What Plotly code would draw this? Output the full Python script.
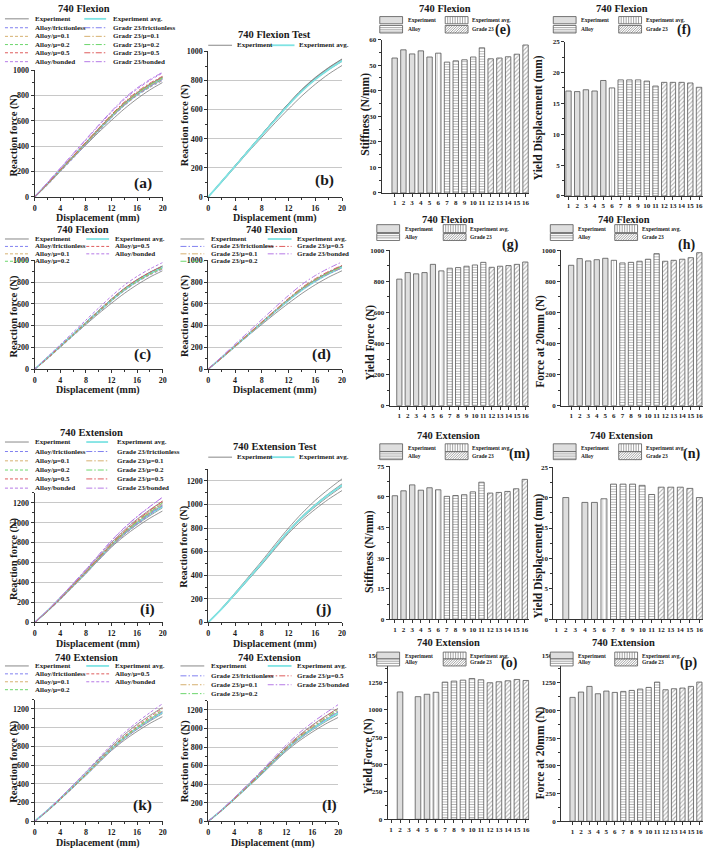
import plotly.graph_objects as go

W, H = 708, 853
FONT = "Liberation Serif"
INK = "#1a1a1a"

# ---------------- data ----------------
DISP = [0, 2, 4, 6, 8, 10, 12, 14, 16, 18, 20]
X_TICKS = [0, 4, 8, 12, 16, 20]

# 740 Flexion – reaction force (N)
FLEX_EXP_1 = [0, 100, 205, 310, 410, 510, 605, 695, 775, 845, 904]
FLEX_EXP_2 = [0, 108, 215, 322, 430, 538, 642, 738, 818, 888, 947]
FLEX_EXP_3 = [0, 104, 210, 318, 425, 530, 635, 728, 808, 875, 932]
FLEX_EXP_4 = [0, 106, 213, 320, 428, 535, 640, 735, 815, 882, 940]
FLEX_EXP_5 = [0, 107, 214, 322, 430, 537, 643, 740, 822, 890, 949]
FLEX_EXP_AVG = [0, 105, 211, 318, 425, 530, 633, 727, 808, 876, 936]
FLEX_ALLOY_FRIC = [0, 95, 200, 305, 412, 520, 625, 720, 800, 865, 919]
FLEX_ALLOY_MU01 = [0, 97, 203, 309, 416, 523, 628, 723, 803, 868, 923]
FLEX_ALLOY_MU02 = [0, 99, 206, 312, 420, 527, 633, 729, 809, 875, 930]
FLEX_ALLOY_MU05 = [0, 102, 210, 318, 427, 535, 642, 740, 821, 888, 943]
FLEX_ALLOY_BOND = [0, 112, 225, 338, 450, 562, 670, 770, 852, 920, 979]
FLEX_G23_FRIC = [0, 98, 205, 311, 419, 527, 632, 728, 809, 875, 930]
FLEX_G23_MU01 = [0, 100, 207, 314, 422, 530, 636, 733, 814, 881, 936]
FLEX_G23_MU02 = [0, 102, 210, 318, 427, 535, 642, 740, 821, 888, 943]
FLEX_G23_MU05 = [0, 105, 214, 323, 433, 542, 650, 749, 831, 898, 953]
FLEX_G23_BOND = [0, 114, 228, 342, 455, 568, 677, 778, 860, 927, 985]

# 740 Extension – reaction force (N)
EXT_EXP_1 = [0, 112, 235, 362, 490, 625, 755, 865, 960, 1045, 1118]
EXT_EXP_2 = [0, 115, 240, 370, 500, 640, 775, 893, 995, 1085, 1166]
EXT_EXP_3 = [0, 120, 250, 385, 520, 662, 800, 925, 1035, 1130, 1217]
EXT_EXP_4 = [0, 114, 238, 366, 496, 633, 767, 883, 982, 1070, 1151]
EXT_EXP_5 = [0, 116, 242, 372, 503, 642, 778, 898, 1000, 1092, 1175]
EXT_EXP_AVG = [0, 115, 241, 371, 502, 640, 775, 893, 994, 1084, 1163]
EXT_ALLOY_FRIC = [0, 110, 232, 360, 490, 625, 760, 880, 985, 1080, 1172]
EXT_ALLOY_MU01 = [0, 111, 234, 363, 494, 630, 766, 887, 993, 1089, 1181]
EXT_ALLOY_MU02 = [0, 112, 236, 366, 498, 636, 773, 896, 1003, 1100, 1193]
EXT_ALLOY_MU05 = [0, 114, 239, 371, 505, 644, 783, 907, 1016, 1114, 1208]
EXT_ALLOY_BOND = [0, 120, 250, 388, 528, 673, 817, 946, 1058, 1160, 1256]
EXT_G23_FRIC = [0, 111, 235, 365, 496, 633, 770, 892, 998, 1094, 1187]
EXT_G23_MU01 = [0, 112, 237, 368, 500, 638, 776, 899, 1006, 1103, 1196]
EXT_G23_MU02 = [0, 113, 238, 369, 502, 641, 780, 904, 1011, 1108, 1202]
EXT_G23_MU05 = [0, 115, 241, 374, 509, 649, 789, 914, 1024, 1123, 1217]
EXT_G23_BOND = [0, 121, 252, 391, 531, 677, 821, 950, 1062, 1162, 1256]

# bar charts: cases 1-5 experiment, 6 experiment avg., 7-11 alloy, 12-16 grade 23
BAR_IDS = [1, 2, 3, 4, 5, 6, 7, 8, 9, 10, 11, 12, 13, 14, 15, 16]
STIFF_FLEX = [52.8, 56.0, 54.4, 55.6, 53.2, 54.7, 51.2, 51.7, 52.1, 53.2, 56.8, 52.5, 52.8, 53.3, 54.3, 57.9]
YDISP_FLEX = [17.0, 16.9, 17.2, 17.0, 18.7, 17.5, 18.8, 18.8, 18.8, 18.6, 17.8, 18.4, 18.4, 18.4, 18.3, 17.6]
YFORCE_FLEX = [815, 857, 849, 857, 910, 868, 885, 889, 898, 906, 923, 891, 898, 902, 910, 925]
F20_FLEX = [904, 947, 932, 940, 949, 936, 919, 923, 930, 943, 979, 930, 936, 943, 953, 985]
STIFF_EXT = [60.5, 62.9, 65.8, 63.2, 64.4, 63.4, 60.2, 60.6, 61.0, 62.4, 67.1, 61.8, 62.1, 62.6, 63.9, 68.5]
YDISP_EXT = [None, 20.0, None, 19.2, 19.2, 19.8, 22.2, 22.2, 22.2, 22.0, 20.5, 21.7, 21.7, 21.7, 21.5, 20.0]
YFORCE_EXT = [None, 1163, None, 1120, 1142, 1160, 1253, 1262, 1271, 1286, 1274, 1247, 1256, 1265, 1277, 1268]
F20_EXT = [1118, 1166, 1217, 1151, 1175, 1163, 1172, 1181, 1193, 1208, 1256, 1187, 1196, 1202, 1217, 1256]

# ---------------- styles ----------------
C_EXP = "#7a7a7a"
C_AVG = "#7fe3e3"
SIM_COLORS = ["#8080f0", "#d6b070", "#6cd66c", "#de5c5c", "#b67ae6"]
DASH_ALLOY = "3px,2px"
DASH_G23 = "6px,2px,1.5px,2px"
LEG_LINE_FS = 7
LEG_BAR_FS = 5.5

fig = go.Figure()
layout_axes = {}
shapes = []
annotations = []


def fx(x):
    return x / W


def fy(y):
    return 1 - y / H


def ax_names(n):
    if n == 1:
        return "x", "y", "xaxis", "yaxis"
    return f"x{n}", f"y{n}", f"xaxis{n}", f"yaxis{n}"


def base_axis(tsize=8, **kw):
    d = dict(showline=True, linecolor="#333", linewidth=1, ticks="outside", ticklen=3,
             tickwidth=1, tickcolor="#333", zeroline=False, fixedrange=True, tickangle=0,
             tickfont=dict(family=FONT, size=tsize, color=INK, weight="bold"))
    d.update(kw)
    return d


def text(x, y, s, size, anchor="center", angle=0):
    annotations.append(dict(x=fx(x), y=fy(y), xref="paper", yref="paper", text=s,
                            showarrow=False, xanchor=anchor, yanchor="middle", textangle=angle,
                            font=dict(family=FONT, size=size, color=INK, weight="bold")))


def legend_line(x0, x1, y, color, dash, width, label, tx):
    shapes.append(dict(type="line", xref="paper", yref="paper", x0=fx(x0), x1=fx(x1),
                       y0=fy(y), y1=fy(y), line=dict(color=color, width=width, dash=dash)))
    text(tx, y, label, LEG_LINE_FS, anchor="left")


def line_panel(n, x0, x1, ytop, ybot, ymax, curves):
    xn, yn, xa, ya = ax_names(n)
    layout_axes[xa] = base_axis(domain=[fx(x0), fx(x1)], anchor=yn, range=[0, 20],
                                tickvals=X_TICKS, showgrid=False,
                                minor=dict(ticks="outside", ticklen=2, dtick=2, tickcolor="#333"))
    layout_axes[ya] = base_axis(domain=[fy(ybot), fy(ytop)], anchor=xn, range=[0, ymax],
                                tick0=0, dtick=200, showgrid=True, gridcolor="#c8c8c8",
                                minor=dict(ticks="outside", ticklen=2, dtick=100, tickcolor="#333"))
    for ys, color, dash, width in curves:
        fig.add_trace(go.Scatter(x=DISP, y=ys, xaxis=xn, yaxis=yn, mode="lines",
                                 line=dict(color=color, dash=dash, width=width, shape="spline",
                                           smoothing=0.8),
                                 showlegend=False, hoverinfo="skip"))


def bar_panel(n, x0, x1, ytop, ybot, xr, ymax, ydtick, values):
    xn, yn, xa, ya = ax_names(n)
    layout_axes[xa] = base_axis(tsize=7, domain=[fx(x0), fx(x1)], anchor=yn, range=xr,
                                tickvals=BAR_IDS, showgrid=False)
    layout_axes[ya] = base_axis(tsize=7, domain=[fy(ybot), fy(ytop)], anchor=xn, range=[0, ymax],
                                tick0=0, dtick=ydtick, showgrid=False,
                                minor=dict(ticks="outside", ticklen=2, dtick=ydtick / 2, tickcolor="#333"))
    groups = [
        (0, 5, dict(color="#dedede")),
        (5, 6, dict(color="white", pattern=dict(shape="|", fgcolor="#888", size=3, solidity=0.25))),
        (6, 11, dict(color="white", pattern=dict(shape="-", fgcolor="#666", size=2.6, solidity=0.35))),
        (11, 16, dict(color="white", pattern=dict(shape="/", fgcolor="#666", size=3, solidity=0.35))),
    ]
    for a, b, mk in groups:
        mk = dict(mk)
        mk["line"] = dict(color="#555", width=0.8)
        fig.add_trace(go.Bar(x=BAR_IDS[a:b], y=values[a:b], xaxis=xn, yaxis=yn, width=0.62,
                             marker=mk, showlegend=False, hoverinfo="skip"))


def swatch(x0, y0, x1, y1, kind):
    fill = "#dedede" if kind == "exp" else "white"
    shapes.append(dict(type="rect", xref="paper", yref="paper", x0=fx(x0), x1=fx(x1),
                       y0=fy(y1), y1=fy(y0), fillcolor=fill, line=dict(color="#555", width=0.8)))
    segs = []
    if kind == "avg":
        x = x0 + 2.5
        while x < x1 - 0.5:
            segs.append(((x, y0), (x, y1)))
            x += 2.5
    elif kind == "alloy":
        y = y0 + 2.2
        while y < y1 - 0.5:
            segs.append(((x0, y), (x1, y)))
            y += 2.2
    elif kind == "g23":
        h = y1 - y0
        c = -h
        while c < x1 - x0:
            tmin = max(0.0, -c / h)
            tmax = min(1.0, (x1 - x0 - c) / h)
            if tmin < tmax:
                segs.append(((x0 + c + tmin * h, y1 - tmin * h), (x0 + c + tmax * h, y1 - tmax * h)))
            c += 2.5
    if segs:
        path = " ".join(f"M{fx(a[0]):.5f},{fy(a[1]):.5f} L{fx(b[0]):.5f},{fy(b[1]):.5f}" for a, b in segs)
        shapes.append(dict(type="path", xref="paper", yref="paper", path=path,
                           line=dict(color="#666", width=0.6)))


def bar_legend(sx1, sx2, row1, row2):
    (r1a, r1b), (r2a, r2b) = row1, row2
    swatch(sx1, r1a, sx1 + 23, r1b, "exp")
    text(sx1 + 26, (r1a + r1b) / 2, "Experiment", LEG_BAR_FS, anchor="left")
    swatch(sx2, r1a, sx2 + 23, r1b, "avg")
    text(sx2 + 25, (r1a + r1b) / 2, "Experiment avg.", LEG_BAR_FS, anchor="left")
    swatch(sx1, r2a, sx1 + 23, r2b, "alloy")
    text(sx1 + 26, (r2a + r2b) / 2, "Alloy", LEG_BAR_FS, anchor="left")
    swatch(sx2, r2a, sx2 + 23, r2b, "g23")
    text(sx2 + 25, (r2a + r2b) / 2, "Grade 23", LEG_BAR_FS, anchor="left")


def exp_curves(exps, avg):
    out = [(e, C_EXP, "solid", 0.8) for e in exps]
    out.append((avg, C_AVG, "solid", 1.8))
    return out


FLEX_EXPS = [FLEX_EXP_1, FLEX_EXP_2, FLEX_EXP_3, FLEX_EXP_4, FLEX_EXP_5]
FLEX_ALLOYS = [FLEX_ALLOY_FRIC, FLEX_ALLOY_MU01, FLEX_ALLOY_MU02, FLEX_ALLOY_MU05, FLEX_ALLOY_BOND]
FLEX_G23S = [FLEX_G23_FRIC, FLEX_G23_MU01, FLEX_G23_MU02, FLEX_G23_MU05, FLEX_G23_BOND]
EXT_EXPS = [EXT_EXP_1, EXT_EXP_2, EXT_EXP_3, EXT_EXP_4, EXT_EXP_5]
EXT_ALLOYS = [EXT_ALLOY_FRIC, EXT_ALLOY_MU01, EXT_ALLOY_MU02, EXT_ALLOY_MU05, EXT_ALLOY_BOND]
EXT_G23S = [EXT_G23_FRIC, EXT_G23_MU01, EXT_G23_MU02, EXT_G23_MU05, EXT_G23_BOND]

COND = ["frictionless", "μ=0.1", "μ=0.2", "μ=0.5", "bonded"]


def sims(series, dash):
    return [(s, SIM_COLORS[i], dash, 1.0) for i, s in enumerate(series)]


# ---------------- line panels ----------------
line_panel(1, 33, 162, 67, 195, 1000, exp_curves(FLEX_EXPS, FLEX_EXP_AVG) + sims(FLEX_ALLOYS, DASH_ALLOY) + sims(FLEX_G23S, DASH_G23))
line_panel(2, 208, 343, 48, 195, 1000, exp_curves(FLEX_EXPS, FLEX_EXP_AVG))
line_panel(3, 33, 162, 259, 369, 1000, exp_curves(FLEX_EXPS, FLEX_EXP_AVG) + sims(FLEX_ALLOYS, DASH_ALLOY))
line_panel(4, 208, 343, 259, 369, 1000, exp_curves(FLEX_EXPS, FLEX_EXP_AVG) + sims(FLEX_G23S, DASH_G23))
line_panel(5, 33, 162, 494, 625, 1300, exp_curves(EXT_EXPS, EXT_EXP_AVG) + sims(EXT_ALLOYS, DASH_ALLOY) + sims(EXT_G23S, DASH_G23))
line_panel(6, 208, 343, 470, 625, 1300, exp_curves(EXT_EXPS, EXT_EXP_AVG))
line_panel(7, 33, 162, 703, 826, 1300, exp_curves(EXT_EXPS, EXT_EXP_AVG) + sims(EXT_ALLOYS, DASH_ALLOY))
line_panel(8, 208, 339, 704, 826, 1300, exp_curves(EXT_EXPS, EXT_EXP_AVG) + sims(EXT_G23S, DASH_G23))

# ---------------- bar panels ----------------
bar_panel(9, 383, 532, 36, 191, [-0.48, 16.45], 60, 10, STIFF_FLEX)
bar_panel(10, 568, 707, 38, 194, [0.62, 16.46], 25, 5, YDISP_FLEX)
bar_panel(11, 391, 532, 249, 406, [-0.15, 16.5], 1000, 200, YFORCE_FLEX)
bar_panel(12, 564, 707, 249, 406, [-0.16, 16.43], 1000, 200, F20_FLEX)
bar_panel(13, 391, 532, 467, 622, [0.4, 16.54], 75, 15, STIFF_EXT)
bar_panel(14, 556, 707, 468, 622, [0.69, 16.38], 25, 5, YDISP_EXT)
bar_panel(15, 389, 532, 658, 824, [0.63, 16.4], 1500, 250, YFORCE_EXT)
bar_panel(16, 564, 707, 658, 826, [-0.34, 16.43], 1500, 250, F20_EXT)

# ---------------- legends ----------------
# (a)
rows_a = [15, 24, 32.7, 41, 49.3, 58.3]
legend_line(3, 27, rows_a[0], C_EXP, "solid", 0.9, "Experiment", 31)
legend_line(83, 105, rows_a[0], C_AVG, "solid", 1.8, "Experiment avg.", 110)
for i in range(5):
    legend_line(3, 27, rows_a[i + 1], SIM_COLORS[i], DASH_ALLOY, 1, "Alloy/" + COND[i], 31)
    legend_line(83, 105, rows_a[i + 1], SIM_COLORS[i], DASH_G23, 1, "Gradr 23/" + COND[i], 110)
# (i)
rows_i = [442.7, 452.3, 461.7, 471, 480, 489.3]
legend_line(3, 27, rows_i[0], C_EXP, "solid", 0.9, "Experiment", 31)
legend_line(85, 107, rows_i[0], C_AVG, "solid", 1.8, "Experiment avg.", 114)
for i in range(5):
    legend_line(3, 27, rows_i[i + 1], SIM_COLORS[i], DASH_ALLOY, 1, "Alloy/" + COND[i], 31)
    legend_line(85, 107, rows_i[i + 1], SIM_COLORS[i], DASH_G23, 1, "Grade 23/" + COND[i], 114)
# (b), (j)
for yb in (41.7, 458):
    legend_line(208, 232, yb, C_EXP, "solid", 0.9, "Experiment", 235)
    legend_line(270, 295, yb, C_AVG, "solid", 1.8, "Experiment avg.", 298)


def four_row_legend(rows, c1, c2, prefix, dash):
    (l1a, l1b, t1), (l2a, l2b, t2) = c1, c2
    legend_line(l1a, l1b, rows[0], C_EXP, "solid", 0.9, "Experiment", t1)
    legend_line(l2a, l2b, rows[0], C_AVG, "solid", 1.8, "Experiment avg.", t2)
    legend_line(l1a, l1b, rows[1], SIM_COLORS[0], dash, 1, prefix + COND[0], t1)
    legend_line(l1a, l1b, rows[2], SIM_COLORS[1], dash, 1, prefix + COND[1], t1)
    legend_line(l1a, l1b, rows[3], SIM_COLORS[2], dash, 1, prefix + COND[2], t1)
    legend_line(l2a, l2b, rows[1], SIM_COLORS[3], dash, 1, prefix + COND[3], t2)
    legend_line(l2a, l2b, rows[2], SIM_COLORS[4], dash, 1, prefix + COND[4], t2)


four_row_legend([237.5, 245, 252.5, 260], (3, 27, 31), (85, 108, 112), "Alloy/", DASH_ALLOY)
four_row_legend([237.5, 245, 252.5, 260], (180, 204, 209), (268, 292, 295), "Grade 23/", DASH_G23)
four_row_legend([669, 677, 685, 693], (3, 27, 31), (85, 108, 112), "Alloy/", DASH_ALLOY)
four_row_legend([669, 679, 688, 697], (180, 204, 209), (268, 292, 295), "Grade 23/", DASH_G23)

bar_legend(381, 447, (12.7, 20), (21.7, 29.3))
bar_legend(556, 622, (12.7, 20), (21.7, 29.3))
bar_legend(378, 445, (223, 231), (232, 239))
bar_legend(553, 618, (223, 231), (232, 239))
bar_legend(381, 447, (444.5, 452.5), (452.5, 460.5))
bar_legend(556, 622, (444.5, 452.5), (452.5, 460.5))
bar_legend(378, 445, (655, 662), (662, 669))
bar_legend(553, 618, (655, 662), (662, 669))

# ---------------- titles / labels ----------------
for x, y, s in [(83, 5, "740 Flexion"), (275, 31, "740 Flexion Test"), (82, 228, "740 Flexion"),
                (272, 228, "740 Flexion"), (90, 433, "740 Extension"), (275, 447, "740 Extension Test"),
                (85, 660, "740 Extension"), (270, 660, "740 Extension"),
                (447, 5, "740 Flexion"), (625, 5, "740 Flexion"), (450, 218, "740 Flexion"),
                (627, 218, "740 Flexion"), (450, 436.5, "740 Extension"), (625, 436.5, "740 Extension"),
                (450, 645, "740 Extension"), (627, 645, "740 Extension")]:
    text(x, y, s, 10.5)

for x, y, s in [(142, 181, "(a)"), (325, 178, "(b)"), (142, 354, "(c)"), (322, 354, "(d)"),
                (147, 611, "(i)"), (325, 611, "(j)"), (142, 810, "(k)"), (330, 810, "(l)")]:
    text(x, y, s, 15.5)
for x, y, s in [(505, 26, "(e)"), (688, 26, "(f)"), (513, 244, "(g)"), (690, 244, "(h)"),
                (522, 455, "(m)"), (695, 455, "(n)"), (512, 666, "(o)"), (692, 666, "(p)")]:
    text(x, y, s, 14)

for x, y in [(12, 132), (184, 122), (12, 315), (184, 315), (12, 560), (184, 548), (12, 765), (184, 765)]:
    text(x, y, "Reaction force (N)", 10.5, angle=-90)
for x, y in [(97, 216.5), (275, 216.5), (97, 390.5), (275, 390.5), (97, 646.5), (275, 646.5), (97, 847.5), (273, 847.5)]:
    text(x, y, "Displacement (mm)", 10)

for x, y, s in [(367, 111, "Stiffness (N/mm)"), (541, 115, "Yield Displacement (mm)"),
                (372, 342, "Yield Force (N)"), (543, 341, "Force at 20mm (N)"),
                (370, 553, "Stiffness (N/mm)"), (541, 558, "Yield Displacement (mm)"),
                (370, 760, "Yield Force (N)"), (543, 757, "Force at 20mm (N)")]:
    text(x, y, s, 11.5, angle=-90)

fig.update_layout(width=W, height=H, autosize=False, margin=dict(l=0, r=0, t=0, b=0),
                  paper_bgcolor="white", plot_bgcolor="white", showlegend=False,
                  barmode="overlay", shapes=shapes, annotations=annotations, **layout_axes)

fig.write_html("out.html")
